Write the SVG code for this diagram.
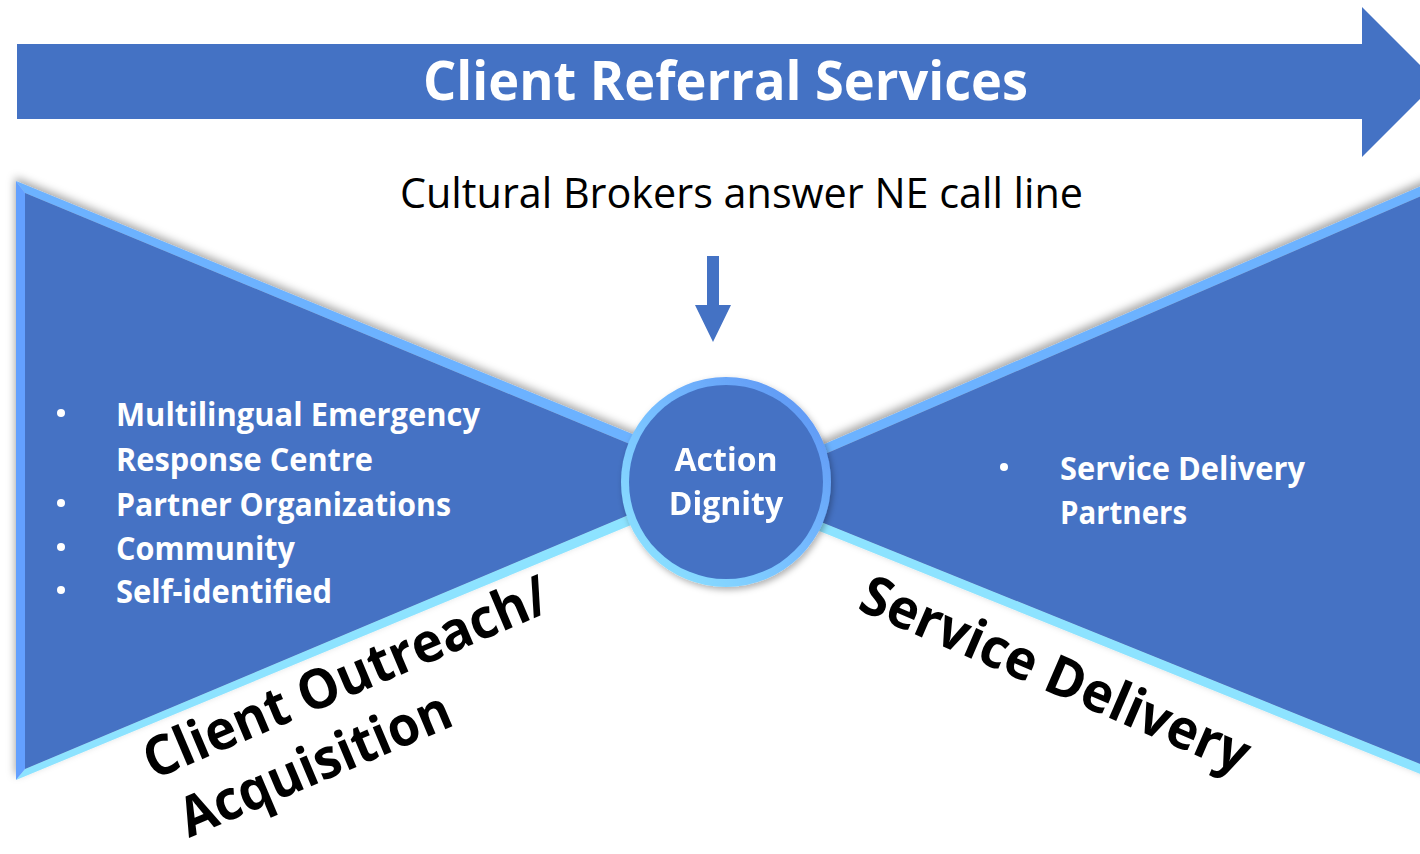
<svg xmlns="http://www.w3.org/2000/svg" width="1420" height="854" viewBox="0 0 1420 854">
  <defs>
    <filter id="shadow" x="-10%" y="-10%" width="120%" height="120%">
      <feDropShadow dx="-1" dy="-4" stdDeviation="4" flood-color="#000" flood-opacity="0.35"/>
    </filter>
    <filter id="cshadow" x="-20%" y="-20%" width="140%" height="140%">
      <feDropShadow dx="2" dy="3" stdDeviation="3" flood-color="#000" flood-opacity="0.3"/>
    </filter>
    <linearGradient id="ring" x1="0" y1="1" x2="1" y2="0">
      <stop offset="0" stop-color="#90EAFF"/>
      <stop offset="0.5" stop-color="#76BDFF"/>
      <stop offset="1" stop-color="#5A8EF2"/>
    </linearGradient>
  </defs>
  <style>
    .fill { fill: #4472C4; }
    .topf { fill: #6CB2FF; }
    .botf { fill: #8DE3FF; }
    .leftf { fill: #64A0FF; }
    .w { fill: #FFFFFF; font-family: "Open Sans", "Liberation Sans", sans-serif; font-weight: bold; }
    .b { fill: #000000; font-family: "Open Sans", "Liberation Sans", sans-serif; }
    .big { font-weight: bold; font-size: 55px; }
  </style>
  <rect width="1420" height="854" fill="#FFFFFF"/>

  <g id="banner">
    <polygon class="fill" points="17,44 1362,44 1362,7 1437,82 1362,157 1362,119 17,119"/>
    <text class="w" x="423" y="100" font-size="53" textLength="605" lengthAdjust="spacingAndGlyphs">Client Referral Services</text>
  </g>

  <g id="caption">
    <text class="b" x="400" y="208" font-size="42" textLength="683" lengthAdjust="spacingAndGlyphs">Cultural Brokers answer NE call line</text>
  </g>

  <g id="left-wing" filter="url(#shadow)">
    <polygon class="topf" points="16,181 742,479 714,479 25,193"/>
    <polygon class="botf" points="16,780 742,479 714,479 25,769"/>
    <polygon class="leftf" points="16,181 25,193 25,769 16,780"/>
    <polygon class="fill" points="25,193 714,479 25,769"/>
  </g>

  <g id="right-wing" filter="url(#shadow)">
    <polygon class="topf" points="1440,178 718,490 742,490 1440,188"/>
    <polygon class="botf" points="1440,782 718,490 742,490 1440,772"/>
    <polygon class="fill" points="1440,188 742,490 1440,772"/>
  </g>

  <g id="left-list">
    <circle cx="61" cy="413" r="4" fill="#FFFFFF"/>
    <text class="w" x="116" y="426" font-size="32" textLength="364" lengthAdjust="spacingAndGlyphs">Multilingual Emergency</text>
    <text class="w" x="116" y="471" font-size="32" textLength="257" lengthAdjust="spacingAndGlyphs">Response Centre</text>
    <circle cx="61" cy="503" r="4" fill="#FFFFFF"/>
    <text class="w" x="116" y="516" font-size="32" textLength="335" lengthAdjust="spacingAndGlyphs">Partner Organizations</text>
    <circle cx="61" cy="547" r="4" fill="#FFFFFF"/>
    <text class="w" x="116" y="560" font-size="32" textLength="179" lengthAdjust="spacingAndGlyphs">Community</text>
    <circle cx="61" cy="590" r="4" fill="#FFFFFF"/>
    <text class="w" x="116" y="603" font-size="32" textLength="216" lengthAdjust="spacingAndGlyphs">Self-identified</text>
  </g>

  <g id="right-list">
    <circle cx="1004" cy="467" r="4" fill="#FFFFFF"/>
    <text class="w" x="1060" y="480" font-size="32" textLength="245" lengthAdjust="spacingAndGlyphs">Service Delivery</text>
    <text class="w" x="1060" y="524" font-size="32" textLength="127" lengthAdjust="spacingAndGlyphs">Partners</text>
  </g>

  <g id="connectors">
    <polygon class="fill" points="707,256 719,256 719,305 731,305 713,342 695,305 707,305"/>
  </g>

  <g id="hub" filter="url(#cshadow)">
    <circle cx="726" cy="482" r="105" fill="url(#ring)"/>
    <circle class="fill" cx="726" cy="482" r="97"/>
    <text class="w" x="726" y="471" font-size="32" text-anchor="middle">Action</text>
    <text class="w" x="726" y="515" font-size="32" text-anchor="middle">Dignity</text>
  </g>

  <g id="label-outreach">
    <text class="b big" transform="translate(153,780) rotate(-23)" textLength="435" lengthAdjust="spacingAndGlyphs">Client Outreach/</text>
    <text class="b big" font-size="53" transform="translate(189,838) rotate(-23)" textLength="290" lengthAdjust="spacingAndGlyphs">Acquisition</text>
  </g>

  <g id="label-delivery">
    <text class="b big" transform="translate(856,609) rotate(23.3)" textLength="418" lengthAdjust="spacingAndGlyphs">Service Delivery</text>
  </g>
</svg>
